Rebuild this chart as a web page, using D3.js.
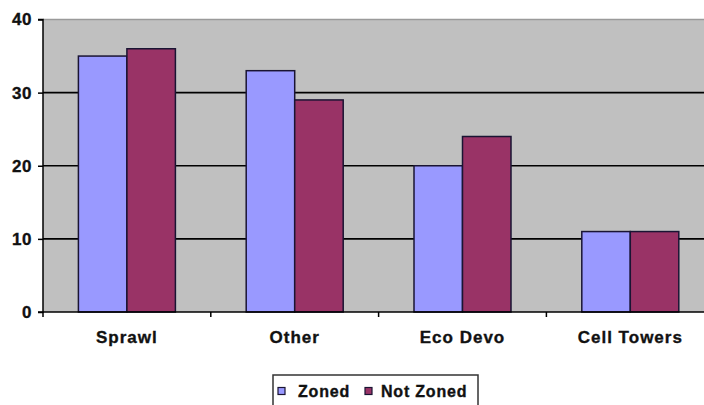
<!DOCTYPE html>
<html>
<head>
<meta charset="utf-8">
<script src="https://cdn.jsdelivr.net/npm/d3@7"></script>
<style>
  html, body { margin: 0; padding: 0; background: #fff; overflow: hidden; }
  svg { display: block; }
  text { font-family: "Liberation Sans", Arial, sans-serif; font-weight: bold; fill: #111; stroke: #111; stroke-width: 0.35px; }
</style>
</head>
<body>
<svg id="chart" width="704" height="405"></svg>
<script>
const categories = ["Sprawl", "Other", "Eco Devo", "Cell Towers"];
const seriesNames = ["Zoned", "Not Zoned"];
const zoned = [35, 33, 20, 11];
const notZoned = [36, 29, 24, 11];
const yTicks = [0, 10, 20, 30, 40];
const colors = ["#9999ff", "#993366"];

const svg = d3.select("#chart");
const plotLeft = 43, plotTop = 19.5, plotBottom = 312;
const bandW = 167.8;
const plotRight = plotLeft + bandW * categories.length;

const x = d3.scaleBand().domain(categories).range([plotLeft, plotRight]).paddingInner(0).paddingOuter(0);
const x1 = d3.scaleBand().domain(seriesNames).range([0, x.bandwidth()]).paddingInner(0).paddingOuter(0.73);
const y = d3.scaleLinear().domain([0, 40]).range([plotBottom, plotTop]);

// plot area
svg.append("rect")
  .attr("x", plotLeft).attr("y", plotTop)
  .attr("width", plotRight - plotLeft).attr("height", plotBottom - plotTop)
  .attr("fill", "#c0c0c0");

svg.append("line")
  .attr("x1", plotLeft).attr("x2", plotRight)
  .attr("y1", plotTop).attr("y2", plotTop)
  .attr("stroke", "#9a9a9a").attr("stroke-width", 1.5);

// gridlines
svg.append("g").selectAll("line")
  .data(yTicks.filter(t => t > 0 && t < 40))
  .join("line")
  .attr("x1", plotLeft).attr("x2", plotRight)
  .attr("y1", d => y(d)).attr("y2", d => y(d))
  .attr("stroke", "#000").attr("stroke-width", 1.6);

// bars
const rows = categories.map((c, i) => ({ cat: c, vals: [zoned[i], notZoned[i]] }));
const g = svg.append("g").selectAll("g")
  .data(rows)
  .join("g")
  .attr("transform", d => `translate(${x(d.cat)},0)`);

g.selectAll("rect")
  .data(d => d.vals.map((v, k) => ({ key: seriesNames[k], v, k })))
  .join("rect")
  .attr("x", d => x1(d.key))
  .attr("width", x1.bandwidth())
  .attr("y", d => y(d.v))
  .attr("height", d => y(0) - y(d.v))
  .attr("fill", d => colors[d.k])
  .attr("stroke", "#1a1433")
  .attr("stroke-width", 1.5);

// y axis
const yAxis = d3.axisLeft(y).tickValues(yTicks).tickSize(5).tickPadding(6);
const ya = svg.append("g").attr("transform", `translate(${plotLeft},0)`).call(yAxis);
ya.select(".domain").attr("stroke", "#000").attr("stroke-width", 1.5).attr("d", `M-5,${plotTop}H0V${plotBottom}H-5`);
ya.selectAll(".tick line").attr("stroke", "#000").attr("stroke-width", 1.5);
ya.selectAll(".tick text")
  .style("font-size", "17px").style("letter-spacing", "0.5px")
  .attr("fill", "#111")
  .attr("font-family", null);

// x axis
const xa = svg.append("g").attr("transform", `translate(0,${plotBottom})`);
xa.append("line").attr("x1", plotLeft).attr("x2", plotRight).attr("y1", 0).attr("y2", 0)
  .attr("stroke", "#000").attr("stroke-width", 1.5);
xa.selectAll("line.tk")
  .data(d3.range(categories.length + 1))
  .join("line").attr("class", "tk")
  .attr("x1", i => plotLeft + i * x.step()).attr("x2", i => plotLeft + i * x.step())
  .attr("y1", 0).attr("y2", 5)
  .attr("stroke", "#000").attr("stroke-width", 1.5);
xa.selectAll("text")
  .data(categories)
  .join("text")
  .attr("x", d => x(d) + x.bandwidth() / 2)
  .attr("y", 31)
  .attr("text-anchor", "middle")
  .style("font-size", "17px").style("letter-spacing", "1px")
  .text(d => d);

// legend
const lg = svg.append("g");
lg.append("rect")
  .attr("x", 273).attr("y", 375).attr("width", 205).attr("height", 40)
  .attr("fill", "#fff").attr("stroke", "#333").attr("stroke-width", 1.5);
const legendItems = [
  { name: seriesNames[0], color: colors[0], sx: 278, tx: 298 },
  { name: seriesNames[1], color: colors[1], sx: 365, tx: 381 }
];
lg.selectAll("rect.sw")
  .data(legendItems)
  .join("rect").attr("class", "sw")
  .attr("x", d => d.sx).attr("y", 387.5).attr("width", 7).attr("height", 7)
  .attr("fill", d => d.color).attr("stroke", "#1a1433").attr("stroke-width", 1.2);
lg.selectAll("text")
  .data(legendItems)
  .join("text")
  .attr("x", d => d.tx).attr("y", 397)
  .style("font-size", "16px").style("letter-spacing", "0.8px")
  .text(d => d.name);
</script>
</body>
</html>
